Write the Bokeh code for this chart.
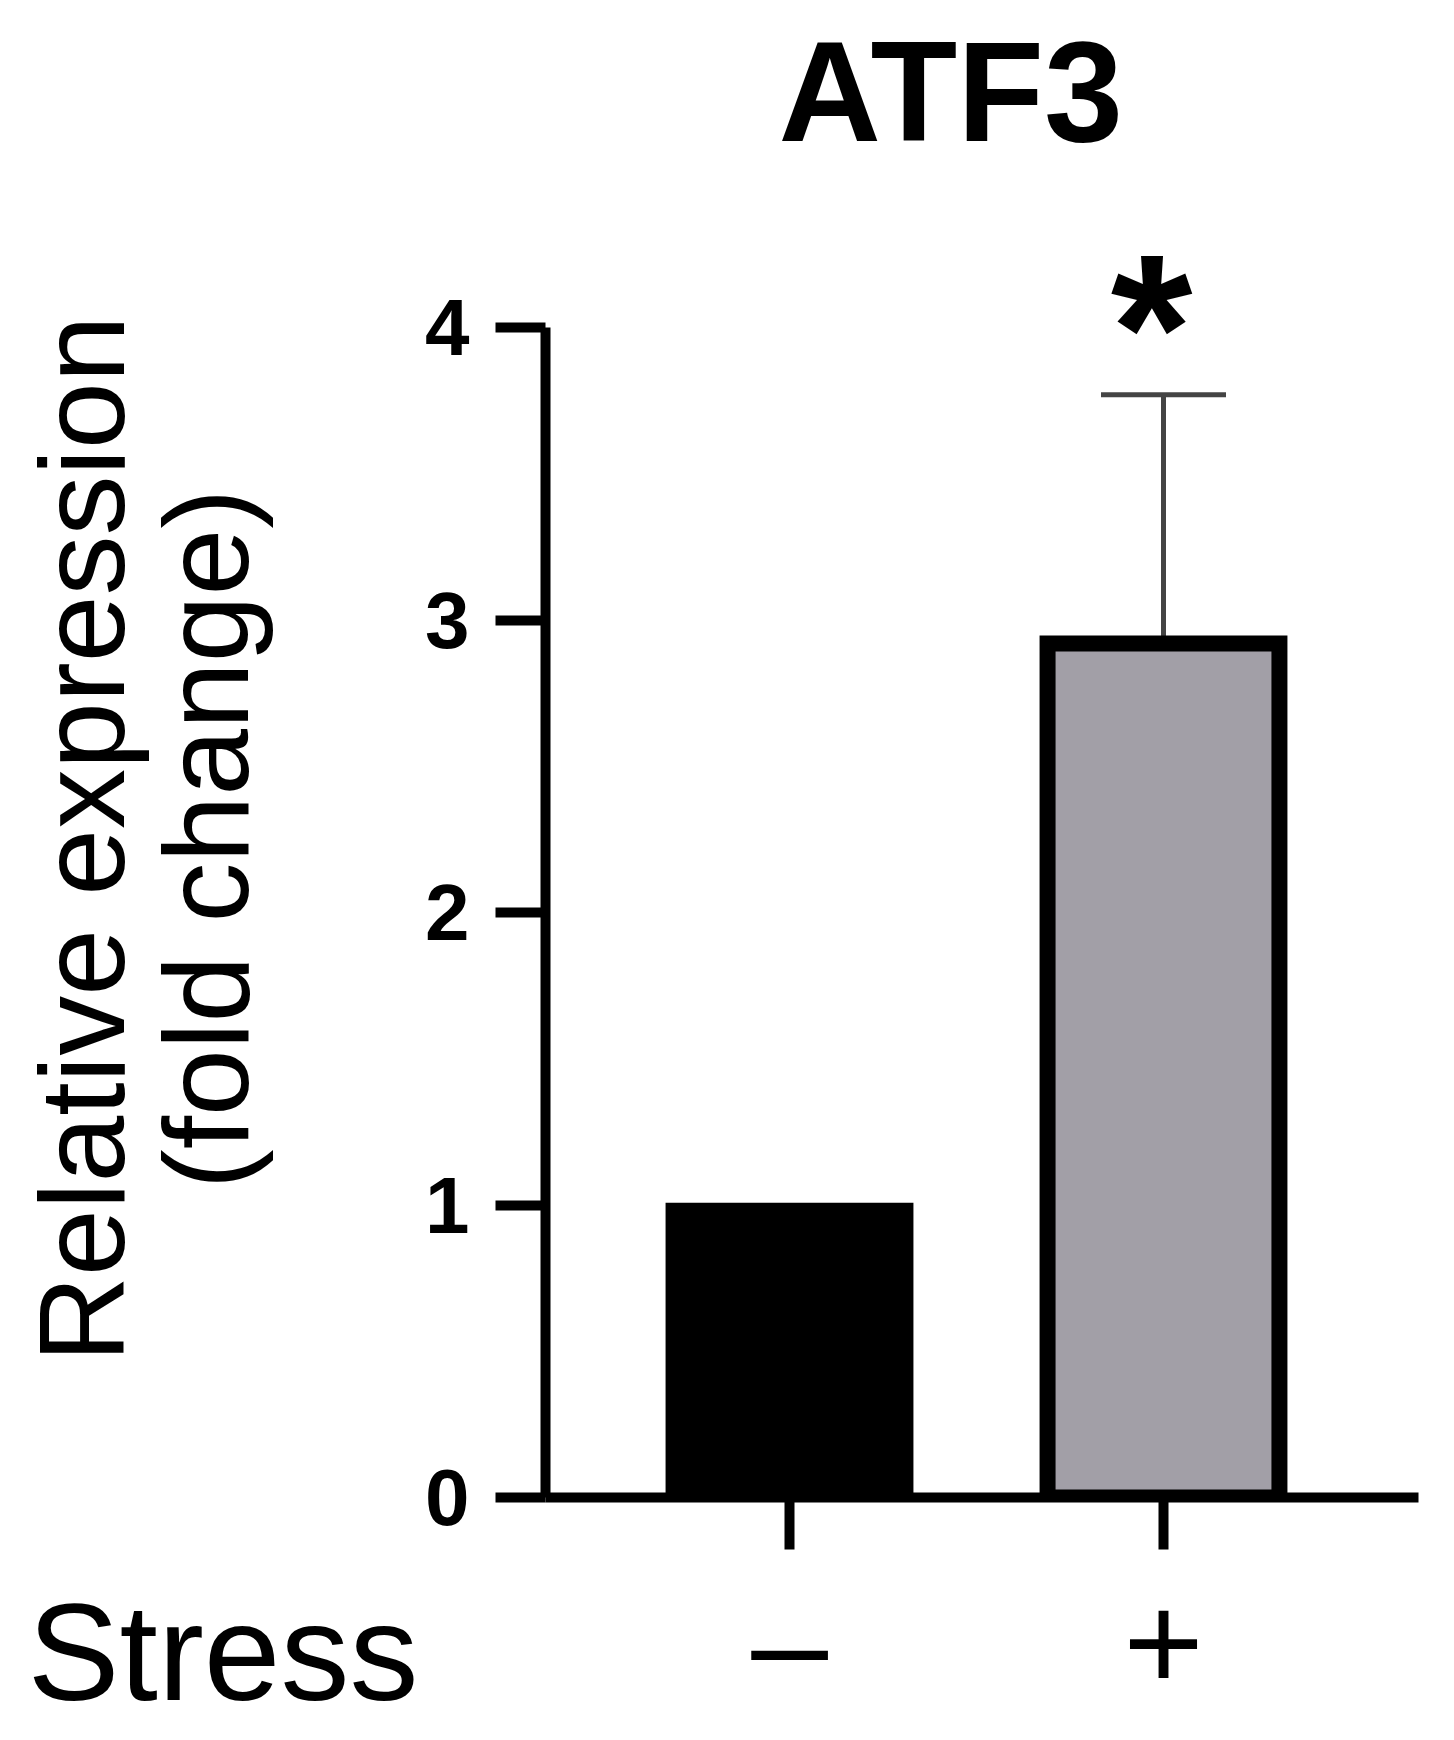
import numpy as np
from bokeh.plotting import figure
from bokeh.models import (ColumnDataSource, Range1d, FixedTicker, Label, Whisker, TeeHead,
                          LinearAxis, Title)
from bokeh.embed import file_html
from bokeh.resources import INLINE

# ---------------- data ----------------
title_text = "ATF3"
y_label_lines = ["Relative expression", "(fold change)"]
group_label = "Stress"
categories = ["–", "+"]
positions = [1, 2]
means = [0.98, 2.92]
sem = [0.0, 0.85]
y_ticks = [0, 1, 2, 3, 4]
fill_colors = ["#000000", "#a29fa7"]
significance = ["", "*"]

# ---------------- layout (pixels) ----------------
W, H = 1438, 1724
PX_PER_X = 374.0
PX_PER_Y = 292.5
FRAME_LEFT, FRAME_RIGHT, FRAME_TOP, FRAME_BOTTOM = 545, 1418, 180, 1497
BAR1_CENTER = 789
x_start = positions[0] - (BAR1_CENTER - FRAME_LEFT) / PX_PER_X
x_end = x_start + (FRAME_RIGHT - FRAME_LEFT) / PX_PER_X
y_end = (FRAME_BOTTOM - FRAME_TOP) / PX_PER_Y

FONT = "Liberation Sans"

upper = [m + s for m, s in zip(means, sem)]
src = ColumnDataSource(dict(
    x=positions,
    top=means,
    upper=upper,
    color=fill_colors,
))

p = figure(width=W, height=H, x_range=Range1d(x_start, x_end), y_range=Range1d(0, y_end),
           output_backend="svg", toolbar_location=None,
           min_border_left=FRAME_LEFT, min_border_right=W - FRAME_RIGHT,
           min_border_top=FRAME_TOP, min_border_bottom=H - FRAME_BOTTOM)
p.outline_line_color = None
p.xgrid.visible = False
p.ygrid.visible = False
p.background_fill_color = "white"
p.border_fill_color = "white"

# title above
p.add_layout(Title(text=title_text, text_font=FONT, text_font_style="bold",
                   text_font_size="142px", text_color="black", align="left",
                   offset=233, standoff=19, vertical_align="bottom"), "above")

# y axis (ticks)
ya = p.yaxis[0]
ya.bounds = (0, 4)
ya.ticker = FixedTicker(ticks=y_ticks)
ya.axis_line_width = 10
ya.axis_line_color = "black"
ya.major_tick_line_width = 10
ya.major_tick_out = 50
ya.major_tick_in = 0
ya.minor_tick_out = 0
ya.minor_tick_in = 0
ya.major_label_text_font = FONT
ya.major_label_text_font_style = "bold"
ya.major_label_text_font_size = "80px"
ya.major_label_text_color = "black"
ya.major_label_standoff = 26
ya.axis_label_standoff = 0

# y axis title: two label-only axes (inner line first)
for line, standoff in zip(reversed(y_label_lines), [150, -13]):
    ax = LinearAxis(ticker=FixedTicker(ticks=[]),
                    axis_label=line, axis_label_standoff=standoff,
                    axis_label_text_font=FONT, axis_label_text_font_size="120px",
                    axis_label_text_font_style="normal", axis_label_text_color="black",
                    axis_line_color=None, major_tick_line_color=None,
                    minor_tick_line_color=None, major_tick_out=0, major_tick_in=0,
                    minor_tick_out=0, minor_tick_in=0, major_label_standoff=0,
                    major_label_text_font_size="0px")
    p.add_layout(ax, "left")

# x axis
xa = p.xaxis[0]
xa.ticker = FixedTicker(ticks=positions)
xa.major_label_overrides = {pos: lab for pos, lab in zip(positions, categories)}
xa.axis_line_width = 10
xa.axis_line_color = "black"
xa.major_tick_line_width = 10
xa.major_tick_out = 52
xa.major_tick_in = 0
xa.minor_tick_out = 0
xa.minor_tick_in = 0
xa.major_label_text_font = FONT
xa.major_label_text_font_size = "138px"
xa.major_label_text_color = "black"
xa.major_label_standoff = 15

# group label below, left of the axis
p.add_layout(Title(text=group_label, text_font=FONT, text_font_style="normal",
                   text_font_size="138px", text_color="black", align="left",
                   offset=31 - FRAME_LEFT - 4, standoff=-294, vertical_align="top"), "below")

# bars
p.vbar(x="x", top="top", width=0.62, source=src, fill_color="color",
       line_color="black", line_width=16, line_join="miter")

# error bars
wh = Whisker(source=src, base="x", upper="upper", lower="top",
             upper_head=TeeHead(size=125, line_width=5, line_color="#444444"),
             lower_head=None, line_width=5, line_color="#444444")
p.add_layout(wh)

# significance asterisk
for xpos, up, sig in zip(positions, upper, significance):
    if sig:
        p.add_layout(Label(x=xpos - 12 / PX_PER_X, y=up + 67 / PX_PER_Y, text=sig,
                           text_font=FONT, text_font_style="bold", text_font_size="210px",
                           text_align="center", text_baseline="middle",
                           text_color="black"))

open("out.html", "w").write(file_html(p, INLINE))
